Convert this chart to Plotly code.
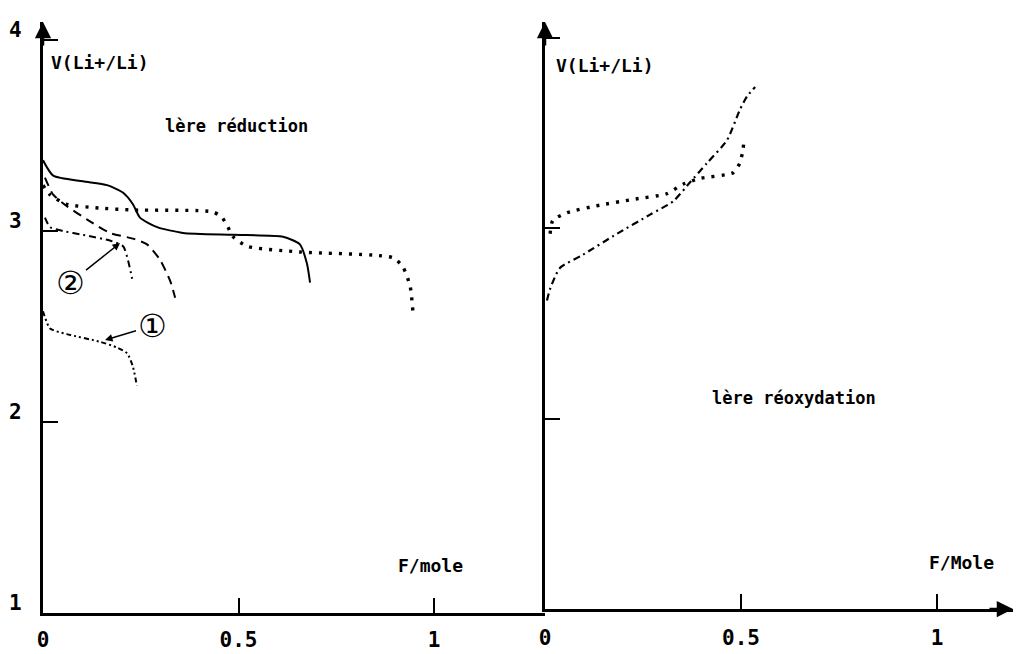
import plotly.graph_objects as go

W, H = 1016, 654
FONT = "DejaVu Sans Mono"

# ---------------- data ----------------
# left panel : 1ère réduction
red_solid_x = [0.0, 0.026, 0.102, 0.164, 0.205, 0.230, 0.248, 0.292, 0.358, 0.486, 0.614, 0.657, 0.675, 0.683]
red_solid_y = [3.37, 3.29, 3.26, 3.24, 3.20, 3.14, 3.07, 3.02, 2.99, 2.98, 2.97, 2.93, 2.83, 2.73]

red_dot_x = [0.0, 0.018, 0.061, 0.146, 0.230, 0.435, 0.458, 0.473, 0.486, 0.522, 0.657, 0.895, 0.921, 0.939, 0.946]
red_dot_y = [3.24, 3.19, 3.14, 3.12, 3.11, 3.10, 3.07, 3.02, 2.97, 2.92, 2.89, 2.86, 2.81, 2.71, 2.58]

red_dash_x = [0.005, 0.026, 0.061, 0.113, 0.171, 0.230, 0.266, 0.299, 0.325, 0.338]
red_dash_y = [3.28, 3.19, 3.13, 3.06, 2.99, 2.96, 2.93, 2.85, 2.74, 2.65]

red_c2_x = [0.005, 0.018, 0.051, 0.102, 0.171, 0.205, 0.217, 0.228]
red_c2_y = [3.07, 3.02, 3.00, 2.98, 2.95, 2.92, 2.85, 2.75]

red_c1_x = [0.0, 0.018, 0.061, 0.146, 0.189, 0.215, 0.230, 0.240]
red_c1_y = [2.58, 2.49, 2.46, 2.42, 2.39, 2.36, 2.29, 2.19]

# right panel : 1ère réoxydation
ox_dot_x = [0.013, 0.020, 0.056, 0.140, 0.224, 0.311, 0.352, 0.395, 0.480, 0.497, 0.505, 0.508]
ox_dot_y = [2.97, 3.04, 3.08, 3.12, 3.15, 3.18, 3.23, 3.26, 3.29, 3.34, 3.41, 3.47]

ox_dd_x = [0.005, 0.013, 0.038, 0.097, 0.184, 0.268, 0.327, 0.370, 0.413, 0.464, 0.497, 0.515, 0.536]
ox_dd_y = [2.62, 2.68, 2.79, 2.86, 2.97, 3.07, 3.14, 3.24, 3.34, 3.46, 3.62, 3.69, 3.74]

x_tickvals = [0, 0.5, 1]
x_ticktext = ["<b>0</b>", "<b>0.5</b>", "<b>1</b>"]
y_tickvals = [2, 3, 4]
y_labels = ["1", "2", "3", "4"]

# ---------------- figure ----------------
def px_x(p):
    return p / W

def px_y(p):
    return 1 - p / H

fig = go.Figure()

def add(x, y, dash, width, xa, ya):
    fig.add_trace(go.Scatter(x=x, y=y, mode="lines", xaxis=xa, yaxis=ya,
                             line=dict(color="black", width=width, dash=dash, shape="spline", smoothing=0.6),
                             showlegend=False, hoverinfo="skip"))

add(red_solid_x, red_solid_y, "solid", 2.0, "x", "y")
add(red_dot_x, red_dot_y, "3px,7px", 3.4, "x", "y")
add(red_dash_x, red_dash_y, "9px,6px", 2.0, "x", "y")
add(red_c2_x, red_c2_y, "7px,4px,2px,4px", 2.0, "x", "y")
add(red_c1_x, red_c1_y, "5px,3px,2px,3px,2px,3px", 2.0, "x", "y")
add(ox_dot_x, ox_dot_y, "3px,7px", 3.4, "x2", "y2")
add(ox_dd_x, ox_dd_y, "7px,4px,2px,4px", 2.2, "x2", "y2")

L_x0, L_x1, L_scale = 43, 545, 391
R_x0, R_x1, R_scale = 545, 1013, 392
L_ybot, L_ytop, L_yscale = 613, 22, 191
R_ybot, R_ytop, R_yscale = 609, 22, 190.5

axis_common = dict(showgrid=False, zeroline=False, showline=True, linecolor="black", linewidth=3,
                   ticks="inside", tickcolor="black", tickwidth=2, ticklen=15)

fig.update_layout(
    width=W, height=H, margin=dict(l=0, r=0, t=0, b=0, autoexpand=False),
    paper_bgcolor="white", plot_bgcolor="white",
    font=dict(family=FONT, color="black"),
    xaxis=dict(domain=[px_x(L_x0), px_x(L_x1)], range=[0, (L_x1 - L_x0) / L_scale], anchor="y",
               tickvals=x_tickvals, ticktext=x_ticktext, tickfont=dict(size=21, family=FONT),
               ticklabelstandoff=6, automargin=False, **axis_common),
    yaxis=dict(domain=[px_y(L_ybot), px_y(L_ytop)], range=[1, 1 + (L_ybot - L_ytop) / L_yscale], anchor="x",
               tickvals=y_tickvals, showticklabels=False, automargin=False, **axis_common),
    xaxis2=dict(domain=[px_x(R_x0), px_x(R_x1)], range=[0, (R_x1 - R_x0) / R_scale], anchor="y2",
                tickvals=x_tickvals, ticktext=x_ticktext, tickfont=dict(size=21, family=FONT),
                ticklabelstandoff=8, automargin=False, **axis_common),
    yaxis2=dict(domain=[px_y(R_ybot), px_y(R_ytop)], range=[1, 1 + (R_ybot - R_ytop) / R_yscale], anchor="x2",
                tickvals=y_tickvals, showticklabels=False, automargin=False, **axis_common),
)

ann = []
# y tick labels (left panel, drawn a little above the ticks)
for lab in y_labels:
    ann.append(dict(x=px_x(15), xref="paper", y=float(lab), yref="y", text="<b>" + lab + "</b>", showarrow=False,
                    xanchor="center", yanchor="middle", yshift=10, font=dict(size=21, family=FONT)))

# axis arrowheads
ann.append(dict(x=0, y=1 + (L_ybot - L_ytop) / L_yscale, xref="x", yref="y", ax=0, ay=25, text="",
                showarrow=True, arrowhead=2, arrowsize=1.3, arrowwidth=2.5, arrowcolor="black"))
ann.append(dict(x=0, y=1 + (R_ybot - R_ytop) / R_yscale, xref="x2", yref="y2", ax=0, ay=25, text="",
                showarrow=True, arrowhead=2, arrowsize=1.3, arrowwidth=2.5, arrowcolor="black"))
ann.append(dict(x=(R_x1 - R_x0) / R_scale, y=1, xref="x2", yref="y2", ax=-25, ay=0, text="",
                showarrow=True, arrowhead=2, arrowsize=1.3, arrowwidth=2.5, arrowcolor="black"))

def txt(x, y, s, size=17, anchor="left"):
    ann.append(dict(x=px_x(x), y=px_y(y), xref="paper", yref="paper", text="<b>" + s + "</b>", showarrow=False,
                    xanchor=anchor, yanchor="middle", font=dict(size=size, family=FONT)))

txt(49, 63, "V(Li+/Li)", 18)
txt(554, 65, "V(Li+/Li)", 18)
txt(163, 126, "lère réduction", 17)
txt(710, 398, "lère réoxydation", 17)
txt(396, 565, "F/mole", 18)
txt(927, 562, "F/Mole", 18)

# circled curve labels with arrows
ann.append(dict(x=(120 - L_x0) / L_scale, y=1 + (L_ybot - 243) / L_yscale, xref="x", yref="y",
                text="②", ax=-50, ay=40, showarrow=True, arrowhead=2, arrowsize=1, arrowwidth=1.5,
                arrowcolor="black", font=dict(size=32, family="DejaVu Sans")))
ann.append(dict(x=(105 - L_x0) / L_scale, y=1 + (L_ybot - 340) / L_yscale, xref="x", yref="y",
                text="①", ax=47, ay=-14, showarrow=True, arrowhead=2, arrowsize=1, arrowwidth=1.5,
                arrowcolor="black", font=dict(size=32, family="DejaVu Sans")))

fig.update_layout(annotations=ann)

fig.write_html("out.html", config={"displayModeBar": False},
               post_script="document.body.style.margin='0';document.body.style.padding='0';")
